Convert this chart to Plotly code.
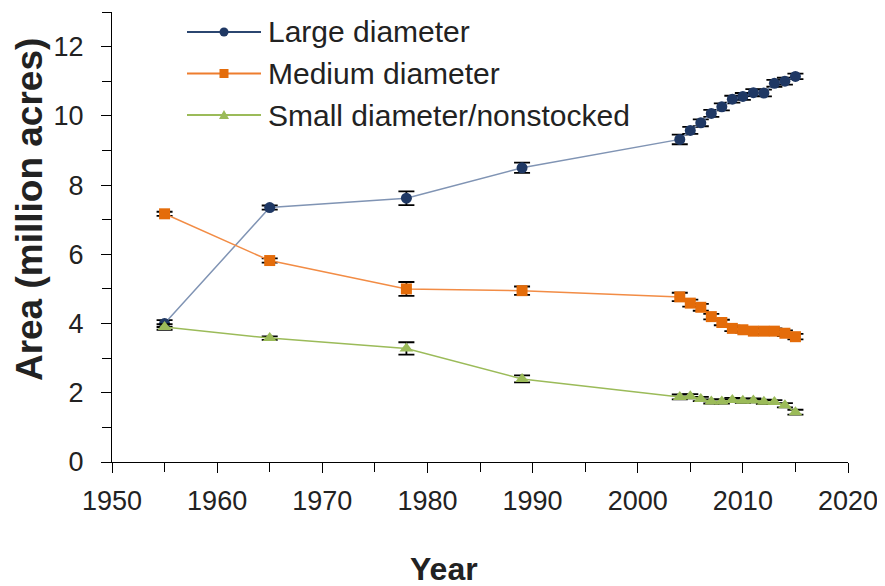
import plotly.graph_objects as go

years = [1955, 1965, 1978, 1989, 2004, 2005, 2006, 2007, 2008, 2009, 2010, 2011, 2012, 2013, 2014, 2015]

large = [4.00, 7.35, 7.62, 8.50, 9.32, 9.58, 9.80, 10.07, 10.26, 10.48, 10.56, 10.67, 10.66, 10.94, 11.00, 11.14]
large_err = [0.10, 0.06, 0.20, 0.15, 0.14, 0.10, 0.10, 0.10, 0.10, 0.10, 0.10, 0.10, 0.10, 0.10, 0.10, 0.08]

medium = [7.17, 5.82, 5.00, 4.95, 4.77, 4.59, 4.47, 4.20, 4.03, 3.86, 3.82, 3.78, 3.78, 3.78, 3.72, 3.62]
medium_err = [0.06, 0.06, 0.20, 0.12, 0.12, 0.10, 0.10, 0.08, 0.08, 0.08, 0.08, 0.08, 0.08, 0.08, 0.08, 0.08]

small = [3.90, 3.58, 3.28, 2.40, 1.88, 1.90, 1.82, 1.75, 1.75, 1.79, 1.77, 1.78, 1.74, 1.73, 1.64, 1.44]
small_err = [0.08, 0.05, 0.18, 0.10, 0.07, 0.06, 0.06, 0.06, 0.06, 0.06, 0.06, 0.06, 0.06, 0.06, 0.06, 0.07]

series = [
    ("Large diameter", large, large_err, "#1f3864", "#8094b4", "circle", 11),
    ("Medium diameter", medium, medium_err, "#e46c0a", "#f28c45", "square", 11),
    ("Small diameter/nonstocked", small, small_err, "#9bbb59", "#9bbb59", "triangle-up", 12),
]

fig = go.Figure()
for name, vals, errs, mcol, lcol, sym, msize in series:
    fig.add_trace(go.Scatter(
        x=years, y=vals, name=name, mode="lines+markers",
        line=dict(color=lcol, width=1.5),
        marker=dict(color=mcol, symbol=sym, size=msize),
        error_y=dict(type="data", array=errs, visible=True, color="black", thickness=1.8, width=8),
    ))

font_family = "Liberation Sans, Arial, sans-serif"
text_col = "#222222"

# Hand-drawn legend (layout shapes + annotations) so it can sit above the plot area
plot_l, plot_t, plot_w, plot_h = 112, 12, 736, 450
def px_x(p):
    return (p - plot_l) / plot_w
def px_y(p):
    return (plot_t + plot_h - p) / plot_h

legend_line_col = ["#2b4670", "#ee7d2e", "#9bbb59"]
shapes, annotations = [], []
for i, (name, vals, errs, mcol, lcol, sym, msize) in enumerate(series):
    yc = px_y(32 + 41.5 * i)
    shapes.append(dict(type="line", xref="paper", yref="paper",
                       x0=px_x(187), x1=px_x(261), y0=yc, y1=yc,
                       line=dict(color=legend_line_col[i], width=1.8)))
    xa = px_x(224)
    if sym == "circle":
        shapes.append(dict(type="circle", xref="paper", yref="paper", xsizemode="pixel", ysizemode="pixel",
                           xanchor=xa, yanchor=yc, x0=-4.5, x1=4.5, y0=-4.5, y1=4.5,
                           fillcolor=mcol, line=dict(width=0)))
    elif sym == "square":
        shapes.append(dict(type="rect", xref="paper", yref="paper", xsizemode="pixel", ysizemode="pixel",
                           xanchor=xa, yanchor=yc, x0=-4.5, x1=4.5, y0=-4.5, y1=4.5,
                           fillcolor=mcol, line=dict(width=0)))
    else:
        shapes.append(dict(type="path", xref="paper", yref="paper", xsizemode="pixel", ysizemode="pixel",
                           xanchor=xa, yanchor=yc, path="M-5,-4 L5,-4 L0,5 Z",
                           fillcolor=mcol, line=dict(width=0)))
    annotations.append(dict(text=name, xref="paper", yref="paper", x=px_x(266), y=yc,
                            xanchor="left", yanchor="middle", showarrow=False,
                            font=dict(size=30, color=text_col)))

annotations += [
    dict(text="<b>Area (million acres)</b>", xref="paper", yref="paper",
         x=-0.1128, y=0.562, xanchor="center", yanchor="middle", textangle=-90,
         showarrow=False, font=dict(size=37, color=text_col)),
    dict(text="<b>Year</b>", xref="paper", yref="paper",
         x=0.451, y=-0.238, xanchor="center", yanchor="middle",
         showarrow=False, font=dict(size=32, color=text_col)),
]

fig.update_layout(
    width=885, height=586,
    margin=dict(l=104, r=45, t=4, b=132),
    paper_bgcolor="white", plot_bgcolor="white",
    font=dict(family=font_family, color=text_col),
    showlegend=False,
    xaxis=dict(range=[1950, 2020], dtick=10, tick0=1950, showgrid=False, zeroline=False,
               showline=True, linecolor="black", linewidth=1.2,
               ticks="outside", ticklen=10, tickcolor="black", tickwidth=1.2,
               minor=dict(dtick=5, ticks="outside", ticklen=9, tickcolor="black", tickwidth=1.2),
               tickfont=dict(size=27, color=text_col), ticklabelstandoff=4),
    yaxis=dict(range=[0, 13], dtick=2, tick0=0, showgrid=False, zeroline=False,
               showline=True, linecolor="black", linewidth=1.2,
               ticks="outside", ticklen=10, tickcolor="black", tickwidth=1.2,
               minor=dict(dtick=1, ticks="outside", ticklen=9, tickcolor="black", tickwidth=1.2),
               tickfont=dict(size=27, color=text_col), ticklabelstandoff=12),
    shapes=shapes,
    annotations=annotations,
)

fig.write_html("out.html")
